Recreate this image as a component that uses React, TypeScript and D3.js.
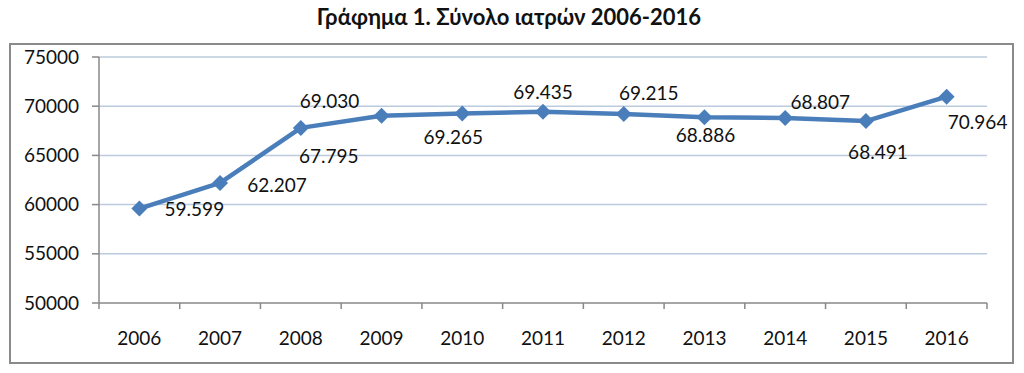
import React from "react";
import { scaleBand, scaleLinear, line } from "d3";

const years = ["2006", "2007", "2008", "2009", "2010", "2011", "2012", "2013", "2014", "2015", "2016"];
const doctors = [59599, 62207, 67795, 69030, 69265, 69435, 69215, 68886, 68807, 68491, 70964];
const yTicks = [50000, 55000, 60000, 65000, 70000, 75000];
const title = "Γράφημα 1. Σύνολο ιατρών 2006-2016";

// where each data label sits relative to its marker (hand placed in the original)
const labelShift = [
  [55, 1], [57, 2], [28, 28], [-52, -14], [-9, 24], [0, -19],
  [25, -21], [1, 18], [35, -16], [12, 31], [31, 26],
];

const W = 1024;
const H = 373;
const left = 99, right = 987, top = 57, bottom = 303;
const font = "Lato, 'Open Sans', sans-serif";

const fmt = (v: number) => {
  const s = String(v);
  return s.slice(0, s.length - 3) + "." + s.slice(-3);
};

export default function App() {
  const x = scaleBand<string>().domain(years).range([left, right]);
  const y = scaleLinear().domain([50000, 75000]).range([bottom, top]);
  const cx = (i: number) => (x(years[i]) as number) + x.bandwidth() / 2;

  const path = line<number>()
    .x((d, i) => cx(i))
    .y((d) => y(d))(doctors);

  const bounds = years.map((yr) => x(yr) as number).concat([right]);

  return (
    <svg width={W} height={H} style={{ position: "absolute", left: 0, top: 0, background: "#fff" }}>
      <text x={509} y={25} textAnchor="middle" fontFamily={font} fontWeight="bold" fontSize={22} fill="#111">
        {title}
      </text>
      <rect x={10} y={44} width={1003} height={319} fill="#fff" stroke="#8a8a8a" strokeWidth={2} />

      {yTicks.map((t) => (
        <g key={t}>
          {t > 50000 && <line x1={left} x2={right} y1={y(t)} y2={y(t)} stroke="#bccbdd" strokeWidth={1.5} />}
          <line x1={left - 7} x2={left} y1={y(t)} y2={y(t)} stroke="#888" strokeWidth={1.5} />
          <text x={79} y={y(t)} dy="0.35em" textAnchor="end" fontFamily={font} fontSize={19} fill="#111">
            {t}
          </text>
        </g>
      ))}
      <line x1={left} x2={left} y1={top} y2={bottom} stroke="#888" strokeWidth={1.5} />
      <line x1={left} x2={right} y1={bottom} y2={bottom} stroke="#888" strokeWidth={1.5} />
      {bounds.map((b, i) => (
        <line key={i} x1={b} x2={b} y1={bottom} y2={bottom + 6} stroke="#888" strokeWidth={1.5} />
      ))}
      {years.map((yr, i) => (
        <text key={yr} x={cx(i)} y={345} textAnchor="middle" fontFamily={font} fontSize={19} fill="#111">
          {yr}
        </text>
      ))}

      <path d={path || ""} fill="none" stroke="#4a7ebb" strokeWidth={4.5} strokeLinejoin="round" />
      {doctors.map((d, i) => (
        <path
          key={i}
          d="M0,-8L8,0L0,8L-8,0Z"
          transform={`translate(${cx(i)},${y(d)})`}
          fill="#4a7ebb"
        />
      ))}
      {doctors.map((d, i) => (
        <text
          key={"l" + i}
          x={cx(i) + labelShift[i][0]}
          y={y(d) + labelShift[i][1]}
          dy="0.35em"
          textAnchor="middle"
          fontFamily={font}
          fontSize={19}
          fill="#111"
        >
          {fmt(d)}
        </text>
      ))}
    </svg>
  );
}
